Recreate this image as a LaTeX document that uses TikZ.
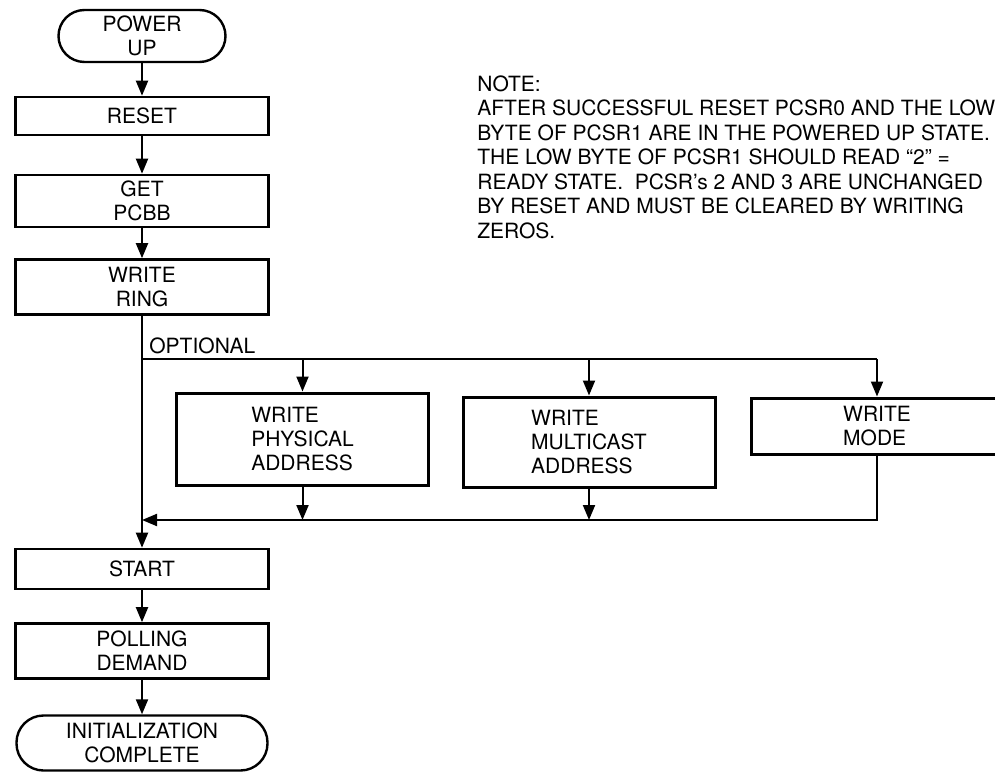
\documentclass[tikz,border=0pt]{standalone}
\usepackage{fontspec}
\setmainfont{TeX Gyre Heros}
\usetikzlibrary{arrows.meta, positioning}

\begin{document}
\begin{tikzpicture}[
x=0.5pt, y=0.5pt,
node distance=42pt,
every node/.style={align=center, inner sep=0pt, font=\fontsize{10.5}{12}\selectfont},
arrow/.style={-{Triangle[length=7.5pt,width=6pt]}, line width=1pt},
link/.style={line width=1pt}
]
\useasboundingbox (0,0) rectangle (995,-775);

% Define styles
\tikzstyle{terminal} = [rectangle, rounded corners=13pt, draw=black, line width=1.2pt]
\tikzstyle{process} = [rectangle, draw=black, line width=1.3pt, minimum width=126.5pt]
\tikzstyle{option} = [rectangle, draw=black, line width=1.5pt, minimum width=126pt, align=left]

% Nodes
\node (powerup) [terminal, minimum width=83.5pt, minimum height=26pt] at (142,-36) {POWER\\UP};

\node (reset) [process, minimum height=19pt, below of=powerup, node distance=40pt] {RESET};

\node (getpcbb) [process, minimum height=26pt, below of=reset, node distance=42.5pt] {GET\\PCBB};

\node (ring) [process, minimum height=27.5pt, below of=getpcbb, node distance=43pt] {WRITE\\RING};

\node (start) [process, minimum height=20pt, below of=ring, node distance=141pt] {START};

\node (polling) [process, minimum height=27.5pt, below of=start, node distance=41pt] {POLLING\\DEMAND};

\node (done) [terminal, minimum width=125.5pt, minimum height=27.5pt, rounded corners=13.5pt, below of=polling, node distance=46pt] {INITIALIZATION\\COMPLETE};

\node (phys) [option, minimum height=46pt] at (302.5,-439) {WRITE\\PHYSICAL\\ADDRESS};

\node (multi) [option, minimum height=45pt] at (589,-442) {WRITE\\MULTICAST\\ADDRESS};

\node (mode) [option, minimum height=28pt] at (877,-426) {WRITE\\MODE};

\node (optlabel) [anchor=base west] at (149,-353) {OPTIONAL};

\node (note) [anchor=north west, align=left, font=\fontsize{10.5}{12.25}\selectfont] at (477,-75) {NOTE:\\
AFTER SUCCESSFUL RESET PCSR0 AND THE LOW\\
BYTE OF PCSR1 ARE IN THE POWERED UP STATE.\\
THE LOW BYTE OF PCSR1 SHOULD READ ``2'' =\\
READY STATE.\ \ PCSR’s 2 AND 3 ARE UNCHANGED\\
BY RESET AND MUST BE CLEARED BY WRITING\\
ZEROS.};

\coordinate (optl) at (142,-359);
\coordinate (optr) at (877,-359);
\coordinate (joinl) at (142,-520);

% Arrows
\draw [arrow] (powerup) -- (reset);
\draw [arrow] (reset) -- (getpcbb);
\draw [arrow] (getpcbb) -- (ring);
\draw [arrow] (ring) -- (start);
\draw [arrow] (start) -- (polling);
\draw [arrow] (polling) -- (done);

\draw [link] (optl) -- (optr);
\draw [arrow] (phys.north |- optl) -- (phys.north);
\draw [arrow] (multi.north |- optl) -- (multi.north);
\draw [arrow] (optr) -- (mode.north);

\draw [arrow] (mode.south) |- (joinl);
\draw [arrow] (phys.south) -- (phys.south |- joinl);
\draw [arrow] (multi.south) -- (multi.south |- joinl);

\end{tikzpicture}
\end{document}
